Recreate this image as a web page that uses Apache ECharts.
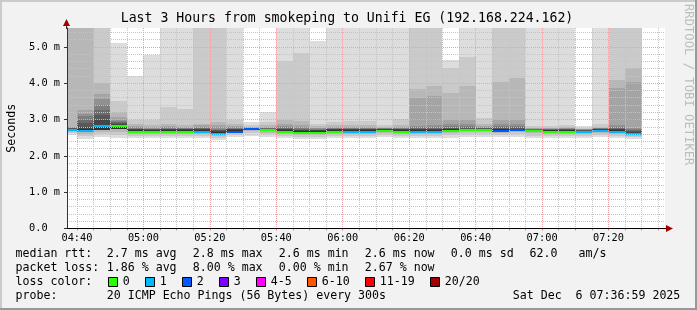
<!DOCTYPE html>
<html><head><meta charset="utf-8">
<script src="https://cdn.jsdelivr.net/npm/echarts@6/dist/echarts.min.js"></script>
<style>html,body{margin:0;padding:0;background:#f2f2f2}#c{width:697px;height:310px}</style>
</head><body><div id="c"></div>
<script>
// ---------- data ----------
const stepTimes = ['04:40','04:45','04:50','04:55','05:00','05:05','05:10','05:15','05:20','05:25','05:30','05:35','05:40','05:45','05:50','05:55','06:00','06:05','06:10','06:15','06:20','06:25','06:30','06:35','06:40','06:45','06:50','06:55','07:00','07:05','07:10','07:15','07:20','07:25','07:30'];
const median = [2.72,2.69,2.82,2.82,2.67,2.67,2.66,2.66,2.66,2.60,2.67,2.74,2.70,2.67,2.63,2.63,2.67,2.66,2.66,2.69,2.66,2.66,2.66,2.69,2.71,2.71,2.69,2.71,2.69,2.66,2.66,2.66,2.69,2.66,2.60];
const lossLevel = [1,1,1,0,0,0,0,0,1,1,2,2,0,0,0,0,0,1,1,0,0,1,1,0,0,0,2,2,0,0,0,1,1,1,1];
// smoke: upper edges of the 10 smoke bands (outer -> inner), values above the axis top are off-scale
const u1 = [6,6,6,5.12,4.2,4.77,6,6,6,6,6,2.94,3.21,6,6,5.17,6,6,6,6,6,6,6,4.64,6,6,6,6,6,6,6,2.82,6,6,6];
const u2 = [6,6,6,3.51,3.0,2.98,3.35,3.28,6,6,2.98,2.84,2.93,4.62,4.82,2.89,2.93,2.97,2.96,2.85,3.02,6,6,4.41,4.73,3.03,6,6,2.82,2.82,2.85,2.77,2.88,6,6];
const u3 = [6,6,4.0,3.22,2.89,2.86,2.89,2.84,2.89,2.93,2.88,2.80,2.85,3.0,2.95,2.82,2.85,2.86,2.84,2.80,2.86,3.84,3.91,3.74,3.91,2.88,4.02,4.15,2.78,2.78,2.79,2.75,2.80,4.09,4.41];
const u4 = [2.80,3.26,3.71,3.08,2.82,2.80,2.83,2.80,2.84,2.86,2.82,2.79,2.80,2.88,2.85,2.78,2.80,2.80,2.80,2.78,2.80,3.60,3.65,2.99,2.99,2.82,3.0,3.0,2.76,2.76,2.77,2.74,2.78,3.86,4.04];
const u5 = [2.79,3.16,3.56,3.0,2.79,2.77,2.80,2.78,2.80,2.80,2.79,2.78,2.78,2.82,2.80,2.76,2.78,2.78,2.78,2.77,2.78,2.83,2.84,2.88,2.88,2.80,2.88,2.88,2.75,2.75,2.76,2.73,2.77,2.84,2.78];
const u6 = [2.78,3.09,3.39,2.95,2.77,2.75,2.77,2.76,2.78,2.75,2.77,2.77,2.77,2.79,2.77,2.74,2.76,2.76,2.76,2.76,2.76,2.80,2.80,2.82,2.82,2.78,2.82,2.82,2.74,2.74,2.75,2.72,2.76,2.80,2.74];
const u7 = [2.77,3.0,3.27,2.92,2.75,2.74,2.75,2.75,2.76,2.72,2.75,2.76,2.76,2.76,2.74,2.72,2.75,2.75,2.75,2.75,2.75,2.77,2.77,2.78,2.79,2.77,2.79,2.79,2.73,2.73,2.74,2.71,2.75,2.77,2.71];
const u8 = [2.76,2.9,3.12,2.9,2.74,2.73,2.74,2.74,2.74,2.70,2.74,2.76,2.75,2.74,2.72,2.71,2.74,2.74,2.74,2.74,2.74,2.75,2.75,2.76,2.77,2.76,2.77,2.77,2.72,2.72,2.73,2.70,2.74,2.75,2.68];
const u9 = [2.75,2.8,3.0,2.88,2.73,2.72,2.73,2.73,2.73,2.68,2.73,2.75,2.74,2.73,2.70,2.70,2.73,2.73,2.73,2.73,2.73,2.73,2.73,2.74,2.75,2.75,2.75,2.75,2.72,2.71,2.72,2.69,2.73,2.73,2.66];
const u10 = [2.74,2.75,2.86,2.86,2.72,2.71,2.72,2.72,2.72,2.66,2.72,2.75,2.73,2.72,2.69,2.69,2.72,2.72,2.72,2.72,2.72,2.72,2.72,2.73,2.74,2.74,2.74,2.74,2.71,2.70,2.71,2.68,2.72,2.72,2.64];
// smoke: lower edges (outer -> inner)
const d1 = [2.57,2.47,2.52,2.50,2.50,2.50,2.49,2.49,2.48,2.45,2.51,2.56,2.53,2.50,2.47,2.47,2.50,2.49,2.49,2.52,2.49,2.48,2.48,2.50,2.52,2.53,2.51,2.53,2.50,2.49,2.49,2.50,2.52,2.48,2.46];
const d2 = [2.62,2.55,2.60,2.58,2.56,2.56,2.55,2.55,2.54,2.50,2.57,2.63,2.59,2.56,2.53,2.53,2.56,2.55,2.55,2.58,2.55,2.54,2.54,2.57,2.59,2.60,2.58,2.60,2.56,2.55,2.55,2.56,2.58,2.55,2.51];
const d3 = [2.66,2.61,2.66,2.66,2.61,2.61,2.60,2.60,2.60,2.55,2.62,2.68,2.64,2.61,2.58,2.58,2.61,2.60,2.60,2.63,2.60,2.60,2.60,2.63,2.65,2.65,2.63,2.65,2.62,2.60,2.60,2.61,2.63,2.60,2.55];
const d4 = [2.69,2.66,2.72,2.75,2.64,2.64,2.63,2.63,2.63,2.58,2.65,2.72,2.68,2.65,2.61,2.61,2.65,2.64,2.64,2.67,2.64,2.64,2.64,2.67,2.69,2.69,2.67,2.69,2.66,2.64,2.64,2.64,2.67,2.64,2.58];
const lossLabels = ['0','1','2','3','4-5','6-10','11-19','20/20'];
const yTicks = [0,1,2,3,4,5];

// ---------- styles ----------
const lossColors = ['#26ff00','#00b8ff','#0059ff','#7e00ff','#ff00ff','#ff5500','#ff0000','#a10000'];
const shades = ['#dddddd','#cacaca','#b7b7b7','#a4a4a4','#919191','#7e7e7e','#6b6b6b','#585858','#454545','#323232'];
const FONT = "'DejaVu Sans Mono', monospace";
const toMin = s => { const p = s.split(':'); return (+p[0]) * 60 + (+p[1]); };
const fmtMin = v => { const h = Math.floor(v / 60), m = Math.round(v % 60); return String(h).padStart(2,'0') + ':' + String(m).padStart(2,'0'); };
const STEP = 5;

const uppers = [u1,u2,u3,u4,u5,u6,u7,u8,u9,u10];
const lowers = [d1,d2,d3,d4,d4,d4,d4,d4,d4,d4];

function bandRender(color) {
  return function (params, api) {
    const p0 = api.coord([api.value(0), api.value(2)]);
    const p1 = api.coord([api.value(1), api.value(3)]);
    const x0 = Math.round(p0[0]), x1 = Math.round(p1[0]);
    const yb = Math.round(p0[1]), yt = Math.round(p1[1]);
    return { type: 'rect', shape: { x: x0, y: yt, width: x1 - x0, height: yb - yt }, style: { fill: color } };
  };
}

const series = [];
uppers.forEach((up, L) => {
  series.push({
    type: 'custom', xAxisIndex: 0, yAxisIndex: 0, clip: true, silent: true, z: 1,
    encode: { x: [0, 1], y: [2, 3] },
    renderItem: bandRender(shades[L]),
    data: stepTimes.map((t, i) => [toMin(t) - STEP, toMin(t), lowers[L][i], up[i]])
  });
});
series.push({
  type: 'custom', xAxisIndex: 0, yAxisIndex: 0, clip: true, silent: true, z: 2,
  encode: { x: [0, 1], y: 2 },
  renderItem: function (params, api) {
    const p0 = api.coord([api.value(0), api.value(2)]);
    const p1 = api.coord([api.value(1), api.value(2)]);
    const x0 = Math.round(p0[0]), x1 = Math.round(p1[0]);
    const y = Math.round(p0[1]);
    return { type: 'rect', shape: { x: x0, y: y - 1, width: x1 - x0, height: 2 }, style: { fill: lossColors[api.value(3)] } };
  },
  data: stepTimes.map((t, i) => [toMin(t) - STEP, toMin(t), median[i], lossLevel[i]])
});

// ---------- layout ----------
const PLOT_L = 67, PLOT_W = 598, PLOT_T = 28, PLOT_H = 200.5;
const T0 = 277, T1 = 457;             // 04:37 .. 07:37
const pxPerMin = PLOT_W / (T1 - T0);
const YMAX = 5.52;
const minorTicks = stepTimes.map(toMin).concat([toMin(stepTimes[stepTimes.length - 1]) + STEP]);

const gridBase = { top: PLOT_T, width: PLOT_W, height: PLOT_H, containLabel: false, outerBoundsMode: 'none' };
const grid = [
  Object.assign({ left: PLOT_L, show: true, backgroundColor: '#ffffff', borderWidth: 0 }, gridBase),
  Object.assign({ left: PLOT_L - (T0 - 275) * pxPerMin, show: false }, gridBase),
  Object.assign({ left: PLOT_L - (T0 - 260) * pxPerMin, show: false }, gridBase)
];

const xAxis = [
  { gridIndex: 0, type: 'value', min: T0, max: T1, z: 6,
    axisLine: { show: true, lineStyle: { color: '#000', width: 1 } },
    axisTick: { show: false }, axisLabel: { show: false }, splitLine: { show: false } },
  { gridIndex: 1, type: 'value', min: 275, max: 455, interval: 5, z: 4,
    axisLine: { show: false },
    axisTick: { show: true, length: 2, customValues: minorTicks, lineStyle: { color: '#e08888' } },
    axisLabel: { show: false },
    splitLine: { show: true, showMinLine: false, showMaxLine: true, lineStyle: { color: '#c4c4c4', width: 1, type: [1, 1] } } },
  { gridIndex: 2, type: 'value', min: 260, max: 440, interval: 20, z: 5,
    axisLine: { show: false }, axisTick: { show: false },
    axisLabel: { show: true, showMinLabel: false, showMaxLabel: true, margin: 5, formatter: fmtMin,
      fontFamily: FONT, fontSize: 10.3, color: '#000' },
    splitLine: { show: true, showMinLine: false, showMaxLine: true, lineStyle: { color: '#f0a0a0', width: 1, type: [1, 1] } } }
];

const yAxis = [
  { gridIndex: 0, type: 'value', min: 0, max: YMAX, interval: 1, position: 'left', z: 6,
    axisLine: { show: true, lineStyle: { color: '#333', width: 1 } },
    axisTick: { show: true, length: 3, lineStyle: { color: '#333' } },
    axisLabel: { show: true, showMaxLabel: false, margin: 7, fontFamily: FONT, fontSize: 10.3, color: '#000',
      formatter: v => (yTicks.indexOf(v) < 0 ? '' : (v === 0 ? '0.0  ' : v.toFixed(1) + ' m')) },
    splitLine: { show: true, showMinLine: false, showMaxLine: false, lineStyle: { color: '#f0a0a0', width: 1, type: [1, 1] } },
    name: 'Seconds', nameLocation: 'middle', nameGap: 48,
    nameTextStyle: { fontFamily: FONT, fontSize: 11.6, color: '#000' } },
  { gridIndex: 0, type: 'value', min: 0, max: YMAX, interval: 0.2, position: 'left', z: 4,
    axisLine: { show: false }, axisTick: { show: false }, axisLabel: { show: false },
    splitLine: { show: true, showMinLine: false, showMaxLine: false, lineStyle: { color: '#c4c4c4', width: 1, type: [1, 1] } } },
  { gridIndex: 1, type: 'value', min: 0, max: 1, show: false, splitLine: { show: false } },
  { gridIndex: 2, type: 'value', min: 0, max: 1, show: false, splitLine: { show: false } }
];

// ---------- texts ----------
function txt(x, y, text, size, opts) {
  opts = opts || {};
  return { type: 'text', x: x, y: y, rotation: opts.rotation || 0, z: 10, silent: true,
    style: { text: text, fontFamily: FONT, fontSize: size, fill: opts.fill || '#000',
      textAlign: opts.align || 'left', align: opts.align || 'left',
      textVerticalAlign: 'middle', verticalAlign: 'middle' } };
}
const LS = 11.6;
const graphic = [
  { type: 'rect', shape: { x: 0, y: 0, width: 697, height: 2 }, style: { fill: '#cbcbcb' }, silent: true },
  { type: 'rect', shape: { x: 0, y: 0, width: 2, height: 310 }, style: { fill: '#cbcbcb' }, silent: true },
  { type: 'rect', shape: { x: 0, y: 308, width: 697, height: 2 }, style: { fill: '#999999' }, silent: true },
  { type: 'rect', shape: { x: 695, y: 0, width: 2, height: 310 }, style: { fill: '#999999' }, silent: true },
  txt(347, 19, 'Last 3 Hours from smokeping to Unifi EG (192.168.224.162)', 13.2, { align: 'center' }),
  txt(688, 4, 'RRDTOOL / TOBI OETIKER', 12.2, { rotation: -Math.PI / 2, fill: '#bdbdbd' }),
  // axis extensions + arrows
  { type: 'line', shape: { x1: 66.5, y1: 29, x2: 66.5, y2: 24 }, style: { stroke: '#333', lineWidth: 1 }, silent: true },
  { type: 'polygon', shape: { points: [[63, 26], [70, 26], [66.5, 19]] }, style: { fill: '#a00000' }, silent: true },
  { type: 'line', shape: { x1: 664, y1: 228.5, x2: 668, y2: 228.5 }, style: { stroke: '#000', lineWidth: 1 }, silent: true },
  { type: 'polygon', shape: { points: [[666, 225], [666, 232], [673, 228.5]] }, style: { fill: '#a00000' }, silent: true },
  // legend
  txt(15.5, 254.3, 'median rtt:', LS),
  txt(106.8, 254.3, '2.7 ms avg', LS), txt(192.8, 254.3, '2.8 ms max', LS), txt(278.8, 254.3, '2.6 ms min', LS),
  txt(364.8, 254.3, '2.6 ms now', LS), txt(450.8, 254.3, '0.0 ms sd', LS), txt(529.5, 254.3, '62.0', LS), txt(578.5, 254.3, 'am/s', LS),
  txt(15.5, 268.3, 'packet loss:', LS),
  txt(106.8, 268.3, '1.86 % avg', LS), txt(192.8, 268.3, '8.00 % max', LS), txt(278.8, 268.3, '0.00 % min', LS), txt(364.8, 268.3, '2.67 % now', LS),
  txt(15.5, 282.3, 'loss color:', LS),
  txt(15.5, 296, 'probe:', LS),
  txt(106.8, 296, '20 ICMP Echo Pings (56 Bytes) every 300s', LS),
  txt(512.8, 296, 'Sat Dec  6 07:36:59 2025', LS)
];
const boxX = [108.5, 145.5, 182.5, 219.5, 256.5, 307.5, 365.5, 430.5];
lossLabels.forEach((lab, i) => {
  graphic.push({ type: 'rect', silent: true, z: 10, shape: { x: boxX[i], y: 277.5, width: 9, height: 9 },
    style: { fill: lossColors[i], stroke: '#000', lineWidth: 1 } });
  graphic.push(txt(boxX[i] + 14.3, 282.3, lab, LS));
});

const chart = echarts.init(document.getElementById('c'), null, { renderer: 'canvas' });
chart.setOption({
  backgroundColor: '#f2f2f2',
  animation: false,
  grid: grid, xAxis: xAxis, yAxis: yAxis, series: series, graphic: graphic
});
</script></body></html>
